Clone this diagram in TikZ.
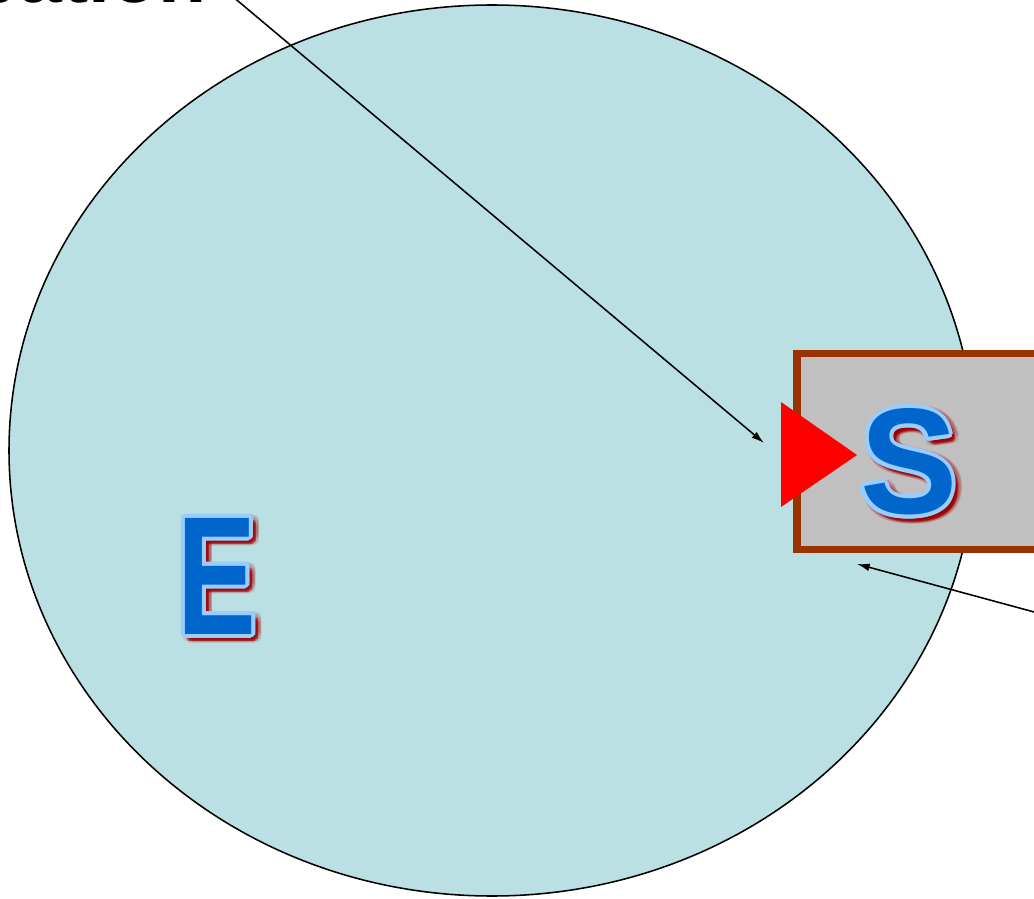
\documentclass[tikz,border=0pt]{standalone}
\usepackage{fontspec}
\setmainfont{Liberation Sans}
\usepackage{contour}
\usetikzlibrary{arrows.meta, positioning, calc}
\definecolor{envBlue}{HTML}{BBE0E3}
\definecolor{boxBrown}{HTML}{993300}
\definecolor{boxGrey}{HTML}{C0C0C0}
\definecolor{letterBlue}{HTML}{0066CC}
\definecolor{rimBlue}{HTML}{99CCFF}
\definecolor{glowRed}{HTML}{A00000}
\tikzset{
    envShape/.style={draw=black, line width=1.1pt, fill=envBlue},
    sysBox/.style={draw=boxBrown, line width=5pt, fill=boxGrey},
    inTri/.style={fill=red},
    pointer/.style={-{Latex[length=9pt, width=5.5pt]}, line width=1.1pt},
    tagText/.style={inner sep=0pt, font=\fontsize{56}{56}\selectfont\bfseries},
    eFont/.style={inner sep=0pt, font=\fontsize{120}{120}\selectfont\bfseries},
    sFont/.style={inner sep=0pt, font=\fontsize{107}{107}\selectfont\bfseries},
    glowSoft/.style={text=glowRed, text opacity=0.12},
    glowCore/.style={text=glowRed, text opacity=0.3}
}

\begin{document}
\begin{tikzpicture}[x=0.025cm, y=-0.025cm]

        % --- Frame ---
        \useasboundingbox (0,0) rectangle (1034,899);

        % --- Coordinates ---
        \coordinate (envC) at (492,450.5);
        \coordinate (ePos) at (217,578);
        \coordinate (sPos) at (909,464);
        \coordinate (tagEnd) at (213,-20);
        \coordinate (inTip) at (764,443);
        \coordinate (outStart) at (1060,619);
        \coordinate (boxTip) at (857,564);

        % 1. Cut-off label (top left, only its foot shows)
        \node[tagText, anchor=base east] (tag) at (207,2.5) {Perturbation};

        % 2. Environment
        \draw[envShape] (envC) ellipse [x radius=483, y radius=445.5];

        % 3. System box and input wedge
        \draw[sysBox] (797,353.5) rectangle (1045,549.5);
        \fill[inTri] (781,402) -- (857,455) -- (781,507) -- cycle;

        % 4. Letters (soft glow first, then rim + fill)
        \node[eFont, glowSoft] at ($(ePos)+(4,4)$)
            {\contourlength{4.5pt}\contour{glowRed}{\scalebox{0.7}[1]{E}}};
        \node[eFont, glowCore] at ($(ePos)+(4,4)$)
            {\contourlength{2pt}\contour{glowRed}{\scalebox{0.7}[1]{E}}};
        \node[eFont, text=letterBlue] (eLetter) at (ePos)
            {\contourlength{2.8pt}\contour{rimBlue}{\scalebox{0.7}[1]{E}}};

        \node[sFont, glowSoft] at ($(sPos)+(4,4)$)
            {\contourlength{4.5pt}\contour{glowRed}{\scalebox{0.97}[1]{S}}};
        \node[sFont, glowCore] at ($(sPos)+(4,4)$)
            {\contourlength{2pt}\contour{glowRed}{\scalebox{0.97}[1]{S}}};
        \node[sFont, text=letterBlue] (sLetter) at (sPos)
            {\contourlength{2.8pt}\contour{rimBlue}{\scalebox{0.97}[1]{S}}};

        % 5. Pointers
        \draw[pointer] (tagEnd) -- (inTip);
        \draw[pointer] (outStart) -- (boxTip);

\end{tikzpicture}
\end{document}
